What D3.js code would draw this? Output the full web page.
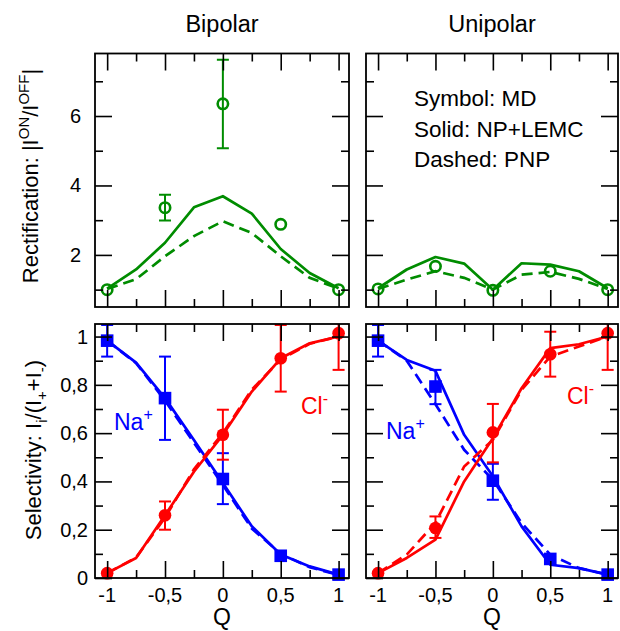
<!DOCTYPE html>
<html><head><meta charset="utf-8">
<script src="https://cdn.jsdelivr.net/npm/d3@7"></script>
<style>body{margin:0;background:#fff} text{font-family:"Liberation Sans",Arial,Helvetica,sans-serif;fill:#000}</style>
</head><body><svg id="c" width="620" height="631"></svg>
<script>
// ---- data ----
const Q = [-1,-0.75,-0.5,-0.25,0,0.25,0.5,0.75,1];
const Qmd = [-1,-0.5,0,0.5,1];
const xTicks = [-1,-0.5,0,0.5,1];
const xMinor = [-0.75,-0.25,0.25,0.75];
const rectTicks = [2,4,6];
const rectMinor = [1,3,5,7];
const selTicks = [0,0.2,0.4,0.6,0.8,1];
const selMinor = [0.1,0.3,0.5,0.7,0.9];
const titles = ["Bipolar","Unipolar"];
const legendLines = ["Symbol: MD","Solid: NP+LEMC","Dashed: PNP"];

// Rectification, bipolar
const bipRectMD = [1.0,3.36,6.35,2.88,1.0];
const bipRectLo = [null,2.99,5.07,null,null];
const bipRectHi = [null,3.73,7.62,null,null];
const bipRectSolid = [1.03,1.58,2.35,3.37,3.69,3.19,2.17,1.48,1.04];
const bipRectDashed = [1.02,1.3,1.96,2.54,2.97,2.63,1.96,1.34,1.03];
// Rectification, unipolar
const uniRectMD = [1.02,1.67,0.98,1.53,1.0];
const uniRectLo = [null,null,null,null,null];
const uniRectHi = [null,null,null,null,null];
const uniRectSolid = [1.04,1.58,1.94,1.75,1.0,1.76,1.72,1.53,1.04];
const uniRectDashed = [1.02,1.29,1.53,1.34,1.0,1.43,1.51,1.31,1.02];

// Selectivity, bipolar
const bipNaMD = [0.983,0.745,0.41,0.092,0.014];
const bipNaLo = [0.917,0.572,0.306,null,null];
const bipNaHi = [1.048,0.917,0.517,null,null];
const bipClMD = [0.02,0.26,0.593,0.91,1.014];
const bipClLo = [null,0.2,0.49,0.772,0.862];
const bipClHi = [null,0.317,0.697,1.048,1.166];
const bipNaSolid = [0.983,0.892,0.745,0.572,0.393,0.214,0.097,0.048,0.014];
const bipNaDashed = [0.983,0.89,0.735,0.56,0.385,0.205,0.1,0.045,0.012];
const bipClSolid = [0.02,0.083,0.26,0.44,0.593,0.772,0.91,0.972,1.0];
const bipClDashed = [0.02,0.085,0.25,0.45,0.6,0.78,0.905,0.97,1.0];
// Selectivity, unipolar
const uniNaMD = [0.983,0.793,0.403,0.079,0.014];
const uniNaLo = [0.917,0.72,0.324,null,null];
const uniNaHi = [1.048,0.862,0.473,null,null];
const uniClMD = [0.02,0.207,0.603,0.927,1.014];
const uniClLo = [null,0.166,0.479,0.834,0.862];
const uniClHi = [null,0.255,0.721,1.02,1.166];
const uniNaSolid = [0.983,0.903,0.858,0.593,0.421,0.214,0.055,0.041,0.014];
const uniNaDashed = [0.983,0.9,0.72,0.531,0.407,0.228,0.097,0.041,0.014];
const uniClSolid = [0.02,0.083,0.159,0.4,0.579,0.786,0.952,0.968,1.0];
const uniClDashed = [0.02,0.097,0.228,0.462,0.572,0.779,0.917,0.959,1.0];

// ---- style ----
const GREEN = "rgb(0,140,0)", BLUE = "#0000ff", RED = "#ff0000";
const colX = [[95,349],[366,618]];
const rowY = [[307,53.5],[578,324]];
const xDom = [-1.105,1.09];
const rectDom = [0.5,7.8];
const selDom = [0,1.052];
const fmt = d => String(d).replace(".", ",");

const svg = d3.select("#c");
let clipId = 0;

function panel(ci, ri, opts) {
  const x = d3.scaleLinear().domain(xDom).range(colX[ci]);
  const y = d3.scaleLinear().domain(opts.ydom).range(rowY[ri]);
  const g = svg.append("g");
  const id = "clip" + (clipId++);
  svg.append("clipPath").attr("id", id).append("rect")
    .attr("x", colX[ci][0]).attr("y", rowY[ri][1])
    .attr("width", colX[ci][1]-colX[ci][0]).attr("height", rowY[ri][0]-rowY[ri][1]);
  const data = g.append("g").attr("clip-path", `url(#${id})`);
  const line = d3.line().x((d,i)=>x(Q[i])).y(d=>y(d));
  opts.series.forEach(s => {
    data.append("path").attr("d", line(s.solid)).attr("fill","none")
      .attr("stroke", s.color).attr("stroke-width", 2.7).attr("stroke-linejoin","round");
    data.append("path").attr("d", line(s.dashed)).attr("fill","none")
      .attr("stroke", s.color).attr("stroke-width", 2.7).attr("stroke-dasharray","11,6");
    // error bars
    s.md.forEach((v,i) => {
      if (s.lo[i] == null) return;
      const cx = x(Qmd[i]);
      data.append("line").attr("x1",cx).attr("x2",cx).attr("y1",y(s.lo[i])).attr("y2",y(s.hi[i]))
        .attr("stroke", s.color).attr("stroke-width", 2);
      [s.lo[i], s.hi[i]].forEach(e => data.append("line").attr("x1",cx-6).attr("x2",cx+6)
        .attr("y1",y(e)).attr("y2",y(e)).attr("stroke", s.color).attr("stroke-width", 2));
    });
  });
  // markers
  opts.series.forEach(s => {
    s.md.forEach((v,i) => {
      const cx = x(Qmd[i]), cy = y(v);
      if (s.marker === "open") g.append("circle").attr("cx",cx).attr("cy",cy).attr("r",5.2)
        .attr("fill","none").attr("stroke",s.color).attr("stroke-width",2.6);
      else if (s.marker === "circle") g.append("circle").attr("cx",cx).attr("cy",cy).attr("r",6.3).attr("fill",s.color);
      else g.append("rect").attr("x",cx-6.3).attr("y",cy-6.3).attr("width",12.6).attr("height",12.6).attr("fill",s.color);
    });
  });
  // axes (ticks inside)
  const ax = g.append("g");
  const mk = (axisFn, scale, ticks, len, tr) => {
    const a = ax.append("g").attr("transform", tr)
      .call(axisFn(scale).tickValues(ticks).tickSize(len).tickFormat(""));
    a.select(".domain").remove();
    a.selectAll("line").attr("stroke","#000").attr("stroke-width",1.6);
  };
  const [x0,x1] = colX[ci], [yb,yt] = rowY[ri];
  mk(d3.axisBottom, x, xTicks, -17, `translate(0,${yb})`);
  mk(d3.axisBottom, x, xMinor, -8, `translate(0,${yb})`);
  mk(d3.axisTop, x, xTicks, -17, `translate(0,${yt})`);
  mk(d3.axisTop, x, xMinor, -8, `translate(0,${yt})`);
  mk(d3.axisLeft, y, opts.yt, -17, `translate(${x0},0)`);
  mk(d3.axisLeft, y, opts.ym, -8, `translate(${x0},0)`);
  mk(d3.axisRight, y, opts.yt, -17, `translate(${x1},0)`);
  mk(d3.axisRight, y, opts.ym, -8, `translate(${x1},0)`);
  g.append("rect").attr("x",x0).attr("y",yt).attr("width",x1-x0).attr("height",yb-yt)
    .attr("fill","none").attr("stroke","#000").attr("stroke-width",1.8);
  if (opts.ylabels) {
    opts.yt.forEach(t => g.append("text").attr("x", x0 - opts.ylabOff).attr("y", y(t) + 7)
      .attr("text-anchor","end").attr("font-size",20).text(fmt(t)));
  }
  if (opts.xlabels) {
    xTicks.forEach(t => g.append("text").attr("x", x(t)).attr("y", yb + 24)
      .attr("text-anchor","middle").attr("font-size",20).text(fmt(t)));
    g.append("text").attr("x",(x0+x1)/2).attr("y", yb + 47).attr("text-anchor","middle")
      .attr("font-size",23).text("Q");
  }
  return {x, y, g};
}

// top row
panel(0,0,{ydom:rectDom, yt:rectTicks, ym:rectMinor, ylabels:true, ylabOff:14,
  series:[{color:GREEN, marker:"open", md:bipRectMD, lo:bipRectLo, hi:bipRectHi, solid:bipRectSolid, dashed:bipRectDashed}]});
panel(1,0,{ydom:rectDom, yt:rectTicks, ym:rectMinor,
  series:[{color:GREEN, marker:"open", md:uniRectMD, lo:uniRectLo, hi:uniRectHi, solid:uniRectSolid, dashed:uniRectDashed}]});
panel(0,1,{ydom:selDom, yt:selTicks, ym:selMinor, ylabels:true, ylabOff:7, xlabels:true,
  series:[{color:BLUE, marker:"square", md:bipNaMD, lo:bipNaLo, hi:bipNaHi, solid:bipNaSolid, dashed:bipNaDashed},
          {color:RED, marker:"circle", md:bipClMD, lo:bipClLo, hi:bipClHi, solid:bipClSolid, dashed:bipClDashed}]});
panel(1,1,{ydom:selDom, yt:selTicks, ym:selMinor, xlabels:true,
  series:[{color:BLUE, marker:"square", md:uniNaMD, lo:uniNaLo, hi:uniNaHi, solid:uniNaSolid, dashed:uniNaDashed},
          {color:RED, marker:"circle", md:uniClMD, lo:uniClLo, hi:uniClHi, solid:uniClSolid, dashed:uniClDashed}]});

// titles
titles.forEach((t,i) => svg.append("text").attr("x",(colX[i][0]+colX[i][1])/2).attr("y",32)
  .attr("text-anchor","middle").attr("font-size",23.5).text(t));

// legend
legendLines.forEach((t,i) => svg.append("text").attr("x",414).attr("y",[106,137,167][i])
  .attr("font-size",22.5).text(t));

// ion labels
function ion(x, y, base, sup, color) {
  const t = svg.append("text").attr("x",x).attr("y",y).attr("font-size",23).style("fill",color);
  t.append("tspan").text(base);
  t.append("tspan").attr("dy",-10).attr("font-size",16).text(sup);
}
ion(114,430,"Na","+",BLUE);
ion(301,414,"Cl","-",RED);
ion(386,439,"Na","+",BLUE);
ion(567,404,"Cl","-",RED);

// y-axis labels
{
  const t = svg.append("text").attr("transform","translate(38,176) rotate(-90)")
    .attr("text-anchor","middle").attr("font-size",22);
  t.append("tspan").text("Rectification: |I");
  t.append("tspan").attr("dy",-9).attr("font-size",15).text("ON");
  t.append("tspan").attr("dy",9).text("/I");
  t.append("tspan").attr("dy",-9).attr("font-size",15).text("OFF");
  t.append("tspan").attr("dy",9).text("|");
}
{
  const t = svg.append("text").attr("transform","translate(41,450) rotate(-90)")
    .attr("text-anchor","middle").attr("font-size",22);
  t.append("tspan").text("Selectivity: I");
  t.append("tspan").attr("dy",6).attr("font-size",15).text("i");
  t.append("tspan").attr("dy",-6).text("/(I");
  t.append("tspan").attr("dy",6).attr("font-size",15).text("+");
  t.append("tspan").attr("dy",-6).text("+I");
  t.append("tspan").attr("dy",6).attr("font-size",15).text("-");
  t.append("tspan").attr("dy",-6).text(")");
}
</script></body></html>
